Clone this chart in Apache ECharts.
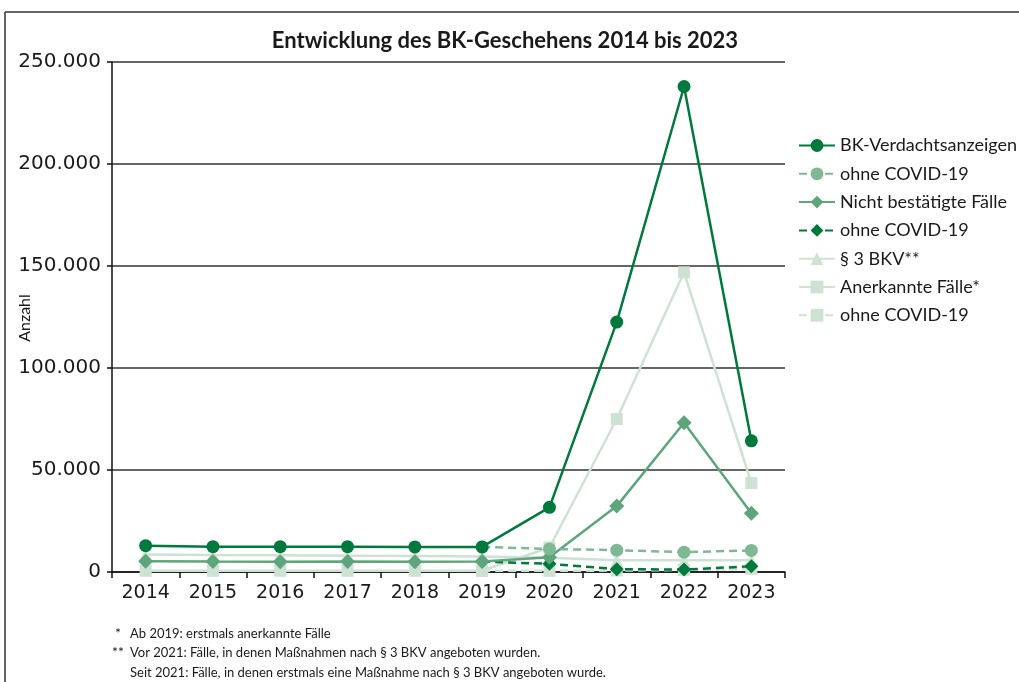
<!DOCTYPE html>
<html>
<head>
<meta charset="utf-8">
<script src="https://cdn.jsdelivr.net/npm/echarts@6/dist/echarts.min.js"></script>
<style>
  html, body { margin: 0; padding: 0; background: #fff; }
  #chart { width: 1019px; height: 682px; }
</style>
</head>
<body>
<div id="chart"></div>
<script>
  // Jahre
  var years = ['2014', '2015', '2016', '2017', '2018', '2019', '2020', '2021', '2022', '2023'];
  var yTicks = [0, 50000, 100000, 150000, 200000, 250000];

  // Werte
  var bkVerdacht      = [12900, 12400, 12400, 12400, 12300, 12300, 31700, 122500, 238000, 64300];
  var bkOhneCovid     = [null, null, null, null, null, 12300, 11300, 10700, 9700, 10600];
  var nichtBestaetigt = [5300, 5100, 5000, 5100, 5000, 5100, 7200, 32300, 73200, 28800];
  var nichtOhneCovid  = [null, null, null, null, null, 5100, 4000, 1400, 1200, 2800];
  var bkv3            = [8600, 8300, 8200, 8000, 7800, 7600, 7000, 5800, 5800, 5800];
  var anerkannt       = [600, 600, 600, 600, 600, 600, 12000, 75000, 146900, 43600];
  var anerkOhneCovid  = [null, null, null, null, null, 600, 600, 700, 1000, 1500];

  var cDark = '#00793c';
  var cMid = '#5ea57b';
  var cMidLight = '#7fb994';
  var cLight = '#cde2d3';

  // legende: interne namen -> angezeigter text
  var legendNames = {
    'BK': 'BK-Verdachtsanzeigen',
    'BK_o': 'ohne COVID-19',
    'NB': 'Nicht bestätigte Fälle',
    'NB_o': 'ohne COVID-19',
    'BKV': '§ 3 BKV**',
    'AN': 'Anerkannte Fälle*',
    'AN_o': 'ohne COVID-19'
  };

  function fmt(v) {
    return String(v).replace(/\B(?=(\d{3})+(?!\d))/g, '.');
  }

  function lineSeries(name, data, color, symbol, size, dashed, z) {
    return {
      name: name,
      type: 'line',
      data: data,
      symbol: symbol,
      symbolSize: size,
      z: z,
      connectNulls: false,
      itemStyle: { color: color },
      lineStyle: { color: color, width: 2.5, type: dashed ? [8, 5] : 'solid' },
      emphasis: { disabled: true },
      animation: false
    };
  }

  var chart = echarts.init(document.getElementById('chart'));
  chart.setOption({
    animation: false,
    title: {
      text: 'Entwicklung des BK-Geschehens 2014 bis 2023',
      left: 500,
      textAlign: 'center',
      top: 25,
      textStyle: { fontFamily: 'Lato', fontWeight: 'bold', fontSize: 22, color: '#1a1a1a' }
    },
    grid: { left: 112, right: 234, top: 62, bottom: 110, outerBoundsMode: 'none', containLabel: false },
    legend: {
      orient: 'vertical',
      left: 793,
      top: 131,
      itemWidth: 36,
      itemHeight: 16,
      itemGap: 9.3,
      data: ['BK', 'BK_o', 'NB', 'NB_o', 'BKV', 'AN', 'AN_o'],
      formatter: function (n) { return legendNames[n]; },
      textStyle: { fontFamily: 'Lato', fontSize: 18, color: '#1a1a1a', lineHeight: 19 },
      selectedMode: false
    },
    xAxis: {
      type: 'category',
      data: years,
      boundaryGap: true,
      axisLine: { lineStyle: { color: '#111', width: 1.5 } },
      axisTick: { show: true, length: 6, lineStyle: { color: '#111', width: 1.5 } },
      axisLabel: { fontFamily: 'DejaVu Sans', fontSize: 19, color: '#1a1a1a', margin: 12 }
    },
    yAxis: {
      type: 'value',
      min: yTicks[0],
      max: yTicks[yTicks.length - 1],
      interval: 50000,
      axisLine: { show: true, lineStyle: { color: '#111', width: 1.5 } },
      axisTick: { show: true, inside: false, length: 5, lineStyle: { color: '#111', width: 1.5 } },
      axisLabel: { fontFamily: 'DejaVu Sans', fontSize: 20, color: '#1a1a1a', margin: 11, formatter: fmt },
      splitLine: { show: true, lineStyle: { color: '#333', width: 1.5 } }
    },
    series: [
      lineSeries('AN', anerkannt, cLight, 'rect', 12, false, 2),
      lineSeries('AN_o', anerkOhneCovid, cLight, 'rect', 12, true, 2),
      lineSeries('BKV', bkv3, cLight, 'triangle', 12, false, 3),
      lineSeries('NB_o', nichtOhneCovid, cDark, 'diamond', 14, true, 4),
      lineSeries('NB', nichtBestaetigt, cMid, 'diamond', 15, false, 5),
      lineSeries('BK_o', bkOhneCovid, cMidLight, 'circle', 13, true, 6),
      lineSeries('BK', bkVerdacht, cDark, 'circle', 13, false, 7)
    ],
    graphic: [
      { type: 'line', shape: { x1: 5, y1: 12, x2: 1019, y2: 12 }, style: { stroke: '#333', lineWidth: 1.5 } },
      { type: 'line', shape: { x1: 5, y1: 12, x2: 5, y2: 682 }, style: { stroke: '#333', lineWidth: 1.5 } },
      { type: 'text', x: 25, y: 318, rotation: Math.PI / 2, style: { text: 'Anzahl', font: '16px Lato', fill: '#1a1a1a', align: 'center', verticalAlign: 'middle' } },
      { type: 'text', left: 115, top: 626, style: { text: '*', font: '14px Lato', fill: '#1a1a1a' } },
      { type: 'text', left: 130, top: 627, style: { text: 'Ab 2019: erstmals anerkannte Fälle', font: '13px Lato', fill: '#1a1a1a' } },
      { type: 'text', left: 112, top: 645, style: { text: '**', font: '14px Lato', fill: '#1a1a1a' } },
      { type: 'text', left: 130, top: 646, style: { text: 'Vor 2021: Fälle, in denen Maßnahmen nach § 3 BKV angeboten wurden.', font: '13px Lato', fill: '#1a1a1a' } },
      { type: 'text', left: 130, top: 666, style: { text: 'Seit 2021: Fälle, in denen erstmals eine Maßnahme nach § 3 BKV angeboten wurde.', font: '13px Lato', fill: '#1a1a1a' } }
    ]
  });
</script>
</body>
</html>
